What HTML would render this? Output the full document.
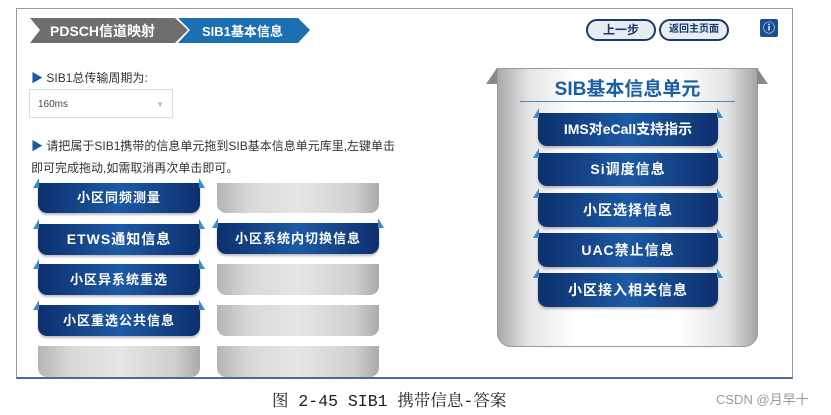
<!DOCTYPE html>
<html><head><meta charset="utf-8"><style>
*{margin:0;padding:0;box-sizing:border-box}
body{width:831px;height:415px;background:#fff;position:relative;overflow:hidden;font-family:"Liberation Sans","Noto Sans CJK SC",sans-serif}
.a{position:absolute}
.frame{left:16px;top:8px;width:777px;height:371px;border:1px solid #999;border-bottom:2px solid #4a6b95;background:#fff}
.tile{position:absolute;border-radius:0 0 9px 9px;color:#fff;font-weight:bold;font-size:13px;text-align:center;letter-spacing:1px;
background:linear-gradient(90deg,#0d2f6e 0%,#1d5aa5 50%,#0d2f6e 100%);box-shadow:0 2px 2px rgba(0,0,0,.25)}
.tile:before,.tile:after{content:"";position:absolute;top:-5px;border-bottom:10px solid #3a8cc9;width:0;height:0}
.tile:before{left:-5px;border-left:6px solid transparent}
.tile:after{right:-5px;border-right:6px solid transparent}
.gray{position:absolute;border-radius:0 0 9px 9px;background:linear-gradient(90deg,#b5b5b5 0%,#d8d8d8 20%,#e6e6e6 50%,#cfcfcf 85%,#aaa 100%)}
</style></head><body>
<div class="a frame"></div>
<svg class="a" style="left:30px;top:16px" width="290" height="30">
<polygon points="0,2 145,2 158,14 145,27 0,27 10,14" fill="#6e6e6e"/>
<polygon points="148,2 268,2 280,14 268,27 148,27 160,14" fill="#1b6fb3"/>
<text x="20" y="20" fill="#fff" font-size="14" font-weight="bold" font-family="Liberation Sans,Noto Sans CJK SC,sans-serif">PDSCH信道映射</text>
<text x="172" y="20" fill="#fff" font-size="13" font-weight="bold" font-family="Liberation Sans,Noto Sans CJK SC,sans-serif">SIB1基本信息</text>
</svg>
<div class="a" style="left:586px;top:19px;width:70px;height:22px;border:2px solid #1b3a6b;border-radius:11px;background:#e7edf4;font-size:12px;font-weight:bold;color:#1b3a6b;text-align:center;line-height:18px">上一步</div>
<div class="a" style="left:659px;top:19px;width:70px;height:22px;border:2px solid #1b3a6b;border-radius:11px;background:#e7edf4;font-size:10px;font-weight:bold;color:#1b3a6b;text-align:center;line-height:18px">返回主页面</div>
<div class="a" style="left:760px;top:19px;width:18px;height:18px;background:#1a4f8f;border-radius:2px;color:#fff;font-size:12px;text-align:center;line-height:18px;font-weight:bold">ⓘ</div>
<div class="a" style="left:31px;top:69px;font-size:12px;color:#333"><span style="color:#1a5aa0">▶</span> SIB1总传输周期为:</div>
<div class="a" style="left:29px;top:89px;width:144px;height:29px;border:1px solid #ddd;font-size:10px;color:#444;padding:9px 0 0 8px">160ms<span style="position:absolute;right:8px;top:10px;color:#bbb;font-size:8px">▼</span></div>
<div class="a" style="left:31px;top:135px;font-size:12px;color:#333;line-height:22px;width:380px"><span style="color:#1a5aa0">▶</span> 请把属于SIB1携带的信息单元拖到SIB基本信息单元库里,左键单击<br>即可完成拖动,如需取消再次单击即可。</div>
<div class="tile" style="left:38px;top:183px;width:162px;height:30px;line-height:30px">小区同频测量</div>
<div class="gray" style="left:217px;top:183px;width:162px;height:30px"></div>
<div class="tile" style="left:38px;top:224px;width:162px;height:31px;line-height:31px;font-size:14px">ETWS通知信息</div>
<div class="tile" style="left:217px;top:223px;width:162px;height:31px;line-height:31px">小区系统内切换信息</div>
<div class="tile" style="left:38px;top:264px;width:162px;height:31px;line-height:31px">小区异系统重选</div>
<div class="gray" style="left:217px;top:264px;width:162px;height:31px"></div>
<div class="tile" style="left:38px;top:305px;width:162px;height:31px;line-height:31px">小区重选公共信息</div>
<div class="gray" style="left:217px;top:305px;width:162px;height:31px"></div>
<div class="gray" style="left:38px;top:346px;width:162px;height:31px"></div>
<div class="gray" style="left:217px;top:346px;width:162px;height:31px"></div>
<div class="gray" style="left:497px;top:68px;width:261px;height:279px;border-radius:0 0 14px 14px;border:1px solid #999;background:linear-gradient(90deg,#a9a9a9 0%,#e5e5e5 12%,#fff 30%,#fff 70%,#e5e5e5 88%,#a5a5a5 100%)"></div>
<svg class="a" style="left:486px;top:66px" width="285" height="20"><polygon points="0,18 11,2 11,18" fill="#888"/><polygon points="282,18 271,2 271,18" fill="#888"/></svg>
<div class="a" style="left:497px;top:74px;width:261px;text-align:center;font-size:19px;font-weight:bold;color:#1b5fa3">SIB基本信息单元</div>
<div class="a" style="left:520px;top:101px;width:215px;height:1px;background:#4d87c0"></div>
<div class="tile" style="left:538px;top:113px;width:180px;height:33px;line-height:33px;font-size:14px;letter-spacing:0">IMS对eCall支持指示</div>
<div class="tile" style="left:538px;top:153px;width:180px;height:33px;line-height:33px;font-size:14px">Si调度信息</div>
<div class="tile" style="left:538px;top:193px;width:180px;height:34px;line-height:34px;font-size:14px">小区选择信息</div>
<div class="tile" style="left:538px;top:233px;width:180px;height:34px;line-height:34px;font-size:14px">UAC禁止信息</div>
<div class="tile" style="left:538px;top:273px;width:180px;height:34px;line-height:34px;font-size:14px">小区接入相关信息</div>
<div class="a" style="left:272px;top:387px;font-size:16.5px;color:#222;font-family:'Liberation Mono','Noto Serif CJK SC',serif">图 2-45 SIB1 携带信息-答案</div>
<div class="a" style="left:716px;top:389px;font-size:13px;color:#999">CSDN @月早十</div>
</body></html>
